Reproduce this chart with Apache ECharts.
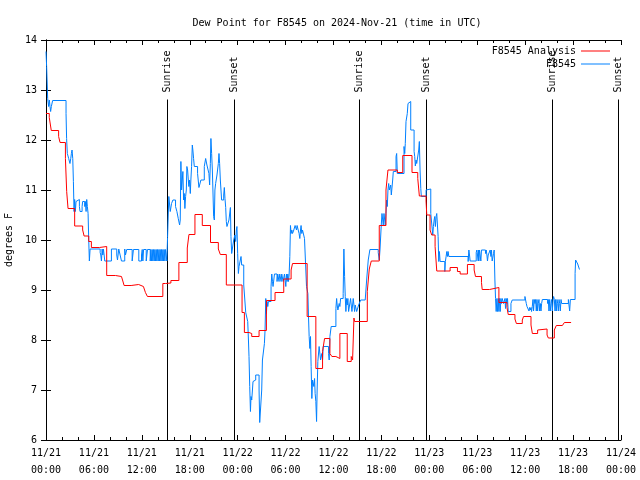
<!DOCTYPE html>
<html><head><meta charset="utf-8">
<script src="https://cdn.jsdelivr.net/npm/echarts@6/dist/echarts.min.js"></script>
<style>html,body{margin:0;padding:0;background:#fff}#chart{width:640px;height:480px}</style>
</head><body><div id="chart"></div>
<script>
const titleText = 'Dew Point for F8545 on 2024-Nov-21 (time in UTC)';
const yAxisTitle = 'degrees F';
const seriesNames = ['F8545 Analysis', 'F8545'];
const xTickLabels = ['11/21\n00:00','11/21\n06:00','11/21\n12:00','11/21\n18:00','11/22\n00:00','11/22\n06:00','11/22\n12:00','11/22\n18:00','11/23\n00:00','11/23\n06:00','11/23\n12:00','11/23\n18:00','11/24\n00:00'];

// hours since 11/21 00:00 UTC
const analysisHours = [0,0.41,0.66,1.58,1.76,2.43,2.59,2.76,3.59,4.59,4.77,5.35,5.68,6.69,7.6,8.7,9.45,9.62,9.78,10.66,11.6,12.2,12.45,12.7,14.63,14.97,15.64,16.64,17.69,17.9,18.65,19.57,20.6,21.58,21.83,22.58,24.55,24.84,25.42,25.76,26.68,27.6,28.68,29.77,30.69,30.87,32.7,33.79,34.63,34.88,35.55,35.8,36.3,36.8,37.72,38.22,38.39,38.56,38.64,40.23,40.48,40.73,41.73,42.57,42.82,43.99,44.67,45.83,46.55,46.75,47.59,47.68,48.09,48.3,48.72,48.93,50.6,51.52,51.86,52.77,53.61,53.78,54.53,54.62,55.53,56.71,57.72,57.88,58.72,58.9,59.64,59.8,60.73,60.9,61.56,61.81,62.74,62.9,63.65,63.9,64.66,64.91,65.75];
const analysisValues = [12.53,12.45,12.19,12.07,11.95,11.63,10.97,10.63,10.28,10.2,10.08,9.97,9.85,9.87,9.29,9.27,9.25,9.18,9.09,9.11,9.07,9.03,8.95,8.87,9.13,9.14,9.19,9.55,9.84,10.11,10.51,10.29,9.95,9.82,9.71,9.1,8.55,8.15,8.13,8.07,8.19,8.79,8.95,9.22,9.4,9.53,8.47,7.43,7.77,8.03,7.73,7.67,7.63,8.13,7.57,7.67,7.6,8.44,8.37,8.97,9.42,9.58,10.29,11.0,11.4,11.35,11.69,11.35,11.23,10.88,10.78,10.5,10.2,10.1,9.87,9.38,9.45,9.37,9.32,9.51,9.4,9.27,9.15,9.01,9.05,8.75,8.65,8.51,8.42,8.33,8.4,8.47,8.3,8.13,8.2,8.22,8.1,8.04,8.2,8.29,8.33,8.35,8.35];

const obsHours = [0,0.08,0.21,0.33,0.42,0.5,0.58,0.67,0.83,2.51,2.58,2.67,2.84,3.0,3.1,3.18,3.26,3.35,3.43,3.51,3.59,3.68,3.76,3.84,4.18,4.26,4.52,4.59,4.85,4.93,5.02,5.1,5.18,5.27,5.35,5.43,5.52,
6.78,6.86,6.94,7.03,7.11,7.19,7.28,7.36,8.19,8.86,8.95,9.11,9.28,9.45,9.86,9.95,10.11,10.79,10.95,11.62,11.96,12.05,12.13,12.22,12.55,12.71,13.05,13.13,13.22,13.3,13.38,13.47,13.55,13.63,13.72,13.8,13.88,13.97,14.05,14.14,14.22,14.3,14.39,14.47,14.55,14.64,14.72,14.8,14.89,14.97,
15.13,15.22,15.38,15.56,15.72,15.89,16.22,16.39,16.56,16.73,16.81,16.89,16.98,17.14,17.23,17.31,17.39,17.48,17.57,17.64,17.73,17.82,17.89,17.98,18.07,18.14,18.23,18.32,18.39,18.48,18.57,18.98,19.15,19.4,19.82,19.99,20.15,20.33,20.4,20.49,20.58,20.65,20.74,20.83,20.9,20.99,21.08,21.15,21.24,21.41,21.58,21.66,21.74,21.83,21.91,21.99,22.25,22.33,22.41,22.5,22.58,22.66,22.91,23.0,23.09,23.16,23.25,23.5,23.59,23.66,23.75,23.84,23.91,24.0,24.09,24.17,24.42,24.5,24.76,25.01,25.26,25.35,25.42,25.51,25.6,25.67,25.76,25.85,25.92,26.17,26.26,26.68,26.76,27.01,27.1,27.35,27.43,27.52,27.6,27.68,27.77,27.85,28.18,28.27,28.36,28.43,28.61,28.93,29.02,29.18,29.27,29.44,29.52,29.69,29.86,30.03,30.11,30.19,30.28,30.36,
30.44,30.53,30.61,30.69,30.78,30.87,31.03,31.19,31.37,31.44,31.69,31.78,31.87,31.94,32.03,32.12,32.37,32.62,32.79,32.87,32.95,33.04,33.12,33.2,33.29,33.38,33.54,33.63,33.7,33.79,33.88,33.95,34.04,34.2,34.38,34.54,34.63,34.71,35.38,35.46,35.55,35.71,36.3,36.39,36.46,36.55,36.71,36.8,36.89,37.21,37.3,37.39,37.47,37.55,37.64,37.72,37.8,37.89,38.14,38.22,38.31,38.39,38.47,38.56,38.64,38.72,38.9,39.06,39.15,39.22,39.4,39.97,40.06,40.15,40.35,40.56,41.6,41.73,41.82,41.98,42.07,42.23,42.32,42.48,42.57,42.66,42.74,42.82,42.91,42.99,43.16,43.24,43.41,43.49,43.83,43.91,43.99,44.83,44.92,44.99,45.08,45.24,45.33,45.42,45.58,45.67,46.09,46.17,46.25,46.34,46.42,46.67,46.75,46.84,46.93,47.0,47.59,47.68,48.18,48.43,48.51,48.6,48.68,48.76,48.85,48.93,49.1,49.18,49.26,49.35,49.94,50.01,50.1,50.19,50.26,50.35,50.44,
52.86,52.95,53.03,53.11,53.87,53.95,54.03,54.12,54.15,54.2,54.28,54.45,54.53,55.03,55.12,55.21,55.28,55.37,55.53,55.62,55.71,55.78,55.87,56.04,56.12,56.21,56.29,56.37,56.46,56.54,56.63,56.71,56.79,56.88,56.96,57.04,57.13,57.29,57.47,57.54,57.63,57.72,57.79,57.88,58.22,58.38,59.97,60.05,60.14,60.23,60.48,60.55,60.64,60.73,60.8,60.89,60.98,61.05,61.14,61.23,61.31,61.39,61.48,61.56,61.64,61.73,61.81,61.9,61.98,62.06,62.15,62.81,62.9,62.98,63.07,63.15,63.24,63.31,63.4,63.49,63.56,63.65,63.74,63.81,63.9,63.99,64.07,64.15,64.24,64.32,64.4,64.49,64.57,65.41,65.57,65.66,66.25,66.32,66.5,66.58,66.8];
const obsValues = [13.77,13.47,12.83,12.67,12.8,12.67,12.57,12.67,12.79,12.53,12.03,11.73,11.63,11.53,11.63,11.73,11.8,11.63,11.17,10.57,10.81,10.57,10.77,10.81,10.67,10.57,10.67,10.77,10.67,10.77,10.57,10.81,10.67,10.53,10.0,9.58,9.82,
9.75,9.7,9.58,9.82,9.7,9.82,9.7,9.58,9.82,9.7,9.6,9.82,9.7,9.58,9.82,9.7,9.81,9.58,9.81,9.58,9.7,9.81,9.58,9.81,9.58,9.81,9.58,9.81,9.58,9.81,9.58,9.81,9.58,9.81,9.58,9.81,9.58,9.81,9.58,9.81,9.58,9.81,9.58,9.81,9.58,9.81,9.58,9.81,9.58,9.81,9.58,10.05,
10.87,10.57,10.73,10.8,10.67,10.57,10.43,10.3,10.4,11.57,11.0,11.37,10.8,10.93,10.63,10.87,11.0,11.47,11.4,11.2,11.07,11.2,10.93,11.2,11.47,11.9,11.8,11.63,11.47,11.33,11.05,11.2,11.47,11.63,11.5,11.5,11.33,11.1,11.53,12.03,11.73,11.4,11.0,10.47,10.4,11.0,11.13,11.3,11.53,11.73,11.53,11.2,11.0,10.8,10.9,11.05,10.83,10.65,10.37,10.27,10.4,10.37,10.65,10.07,9.73,10.0,9.97,10.1,9.97,10.2,10.27,9.73,9.33,9.47,9.67,9.5,9.1,8.55,8.37,8.0,7.67,7.07,6.57,6.87,6.8,7.0,7.17,7.2,7.3,7.0,6.35,7.0,7.6,7.93,8.2,8.83,8.53,8.77,8.67,8.77,9.07,9.32,9.17,9.07,9.32,9.17,9.32,9.17,9.32,9.17,9.32,9.17,9.32,9.07,9.32,9.17,9.32,9.17,9.3,9.67,
10.29,10.13,10.2,10.13,10.2,10.29,10.2,10.29,10.13,10.03,10.2,10.29,10.13,10.2,10.03,9.07,8.93,8.47,8.07,7.83,8.07,7.47,6.83,7.2,7.07,7.23,6.93,6.77,6.37,7.0,7.57,7.87,7.6,7.73,7.6,7.87,7.73,7.6,8.07,8.27,8.63,8.83,8.7,8.6,8.73,8.67,8.83,8.93,9.82,9.27,8.87,8.57,8.83,8.7,8.83,8.57,8.83,8.7,8.57,8.7,8.83,8.7,8.57,8.7,8.57,8.6,8.7,8.73,8.8,8.77,8.83,9.2,9.6,9.81,9.75,9.6,9.8,10.3,10.53,10.3,10.53,10.3,10.53,10.8,10.67,11.0,11.13,11.0,11.1,10.9,11.2,11.37,11.67,11.73,11.33,11.87,11.73,11.93,12.37,12.53,12.73,12.7,12.77,12.2,11.77,11.67,11.48,11.6,11.53,11.8,11.97,11.4,11.03,10.87,11.0,11.02,10.53,10.1,10.27,10.4,10.47,10.27,10.47,10.53,10.07,9.57,9.77,9.57,9.37,9.57,9.67,9.77,9.67,9.77,9.67,9.57,9.8,
9.7,9.58,9.75,9.8,9.7,9.58,9.8,9.58,9.8,9.58,9.8,9.73,9.8,9.7,9.58,9.7,9.73,9.8,9.67,9.8,9.58,9.73,9.8,9.2,8.83,8.57,8.83,8.57,8.83,8.57,8.83,8.57,8.83,8.73,8.83,8.73,8.83,8.63,8.83,8.73,8.83,8.57,8.73,8.8,8.87,8.83,8.73,8.67,8.58,8.65,8.6,8.65,8.57,8.67,8.81,8.58,8.81,8.73,8.81,8.58,8.81,8.58,8.73,8.81,8.58,8.73,8.58,8.73,8.81,8.73,8.81,8.58,8.81,8.58,8.73,8.81,8.58,8.8,8.87,8.81,8.58,8.81,8.58,8.81,8.73,8.58,8.81,8.73,8.58,8.81,8.73,8.81,8.58,8.81,9.33,9.6,9.56,9.52,9.41,9.37,9.37];

const sunHours = [15.13, 23.54, 39.22, 47.63, 63.3, 71.6];
const sunLabels = ['Sunrise', 'Sunset', 'Sunrise', 'Sunset', 'Sunrise', 'Sunset'];
const sunLineTop = 12.81;

const FONT = '"DejaVu Sans Mono", "Liberation Mono", monospace';
const pairs = (xs, ys) => xs.map((x, i) => [x, ys[i]]);

const chart = echarts.init(document.getElementById('chart'), null, { renderer: 'canvas' });

const tickCommon = { show: true, inside: true, length: 5, lineStyle: { color: '#000', width: 1 } };
const minorCommon = { show: true, splitNumber: 3, length: 3, lineStyle: { color: '#000', width: 1 } };
const lineCommon = { show: true, lineStyle: { color: '#000', width: 1 } };

const legendCommon = {
  orient: 'vertical', align: 'right', right: 30, itemWidth: 29, itemHeight: 1, itemGap: 0, padding: 0,
  selectedMode: false, textStyle: { fontFamily: FONT, fontSize: 10, color: '#000' }
};

chart.setOption({
  animation: false,
  backgroundColor: '#fff',
  textStyle: { fontFamily: FONT },
  title: {
    text: titleText, left: 332, top: 13, textAlign: 'center',
    textStyle: { fontFamily: FONT, fontSize: 10, fontWeight: 'normal', color: '#000' }
  },
  legend: [
    Object.assign({ data: [{ name: seriesNames[0], icon: 'rect' }], top: 46 }, legendCommon),
    Object.assign({ data: [{ name: seriesNames[1], icon: 'rect' }], top: 59 }, legendCommon)
  ],
  grid: { left: 46, right: 19, top: 40, bottom: 40, outerBoundsMode: 'none' },
  xAxis: [
    {
      type: 'value', min: 0, max: 72, interval: 6, position: 'bottom',
      axisLine: lineCommon, axisTick: tickCommon, minorTick: minorCommon,
      splitLine: { show: false },
      axisLabel: {
        formatter: v => xTickLabels[Math.round(v / 6)], color: '#000',
        fontFamily: FONT, fontSize: 10, lineHeight: 17, margin: 5
      }
    },
    {
      type: 'value', min: 0, max: 72, interval: 6, position: 'top',
      axisLine: lineCommon, axisTick: tickCommon, minorTick: minorCommon,
      splitLine: { show: false }, axisLabel: { show: false }
    }
  ],
  yAxis: [
    {
      type: 'value', min: 6, max: 14, interval: 1, position: 'left',
      axisLine: lineCommon, axisTick: tickCommon, splitLine: { show: false },
      axisLabel: { color: '#000', fontFamily: FONT, fontSize: 10, margin: 9 },
      name: yAxisTitle, nameLocation: 'middle', nameGap: 29, nameRotate: 90,
      nameTextStyle: { fontFamily: FONT, fontSize: 10, color: '#000' }
    },
    {
      type: 'value', min: 6, max: 14, interval: 1, position: 'right',
      axisLine: lineCommon, axisTick: tickCommon, splitLine: { show: false },
      axisLabel: { show: false }
    }
  ],
  series: [
    {
      type: 'custom', name: 'sun', silent: true, z: 1,
      data: sunHours.map(h => [h, sunLineTop]),
      renderItem: (params, api) => {
        const h = api.value(0);
        const p0 = api.coord([h, 6]);
        const p1 = api.coord([h, api.value(1)]);
        const x = Math.round(p0[0]) + 0.5;
        return {
          type: 'group',
          children: [
            { type: 'line', shape: { x1: x, y1: p0[1], x2: x, y2: p1[1] }, style: { stroke: '#000', lineWidth: 1 } },
            {
              type: 'text', x: x, y: p1[1] - 7, rotation: Math.PI / 2,
              style: { text: sunLabels[params.dataIndex], font: '10px ' + FONT, fill: '#000', align: 'left', verticalAlign: 'middle' }
            }
          ]
        };
      }
    },
    {
      name: seriesNames[0], type: 'line', step: 'end', symbol: 'none', z: 3,
      data: pairs(analysisHours, analysisValues),
      lineStyle: { color: '#ff0000', width: 1 }, itemStyle: { color: '#ff0000' }
    },
    {
      name: seriesNames[1], type: 'line', step: 'end', symbol: 'none', z: 2,
      data: pairs(obsHours, obsValues),
      lineStyle: { color: '#0080ff', width: 1 }, itemStyle: { color: '#0080ff' }
    }
  ]
});
</script>
</body></html>
